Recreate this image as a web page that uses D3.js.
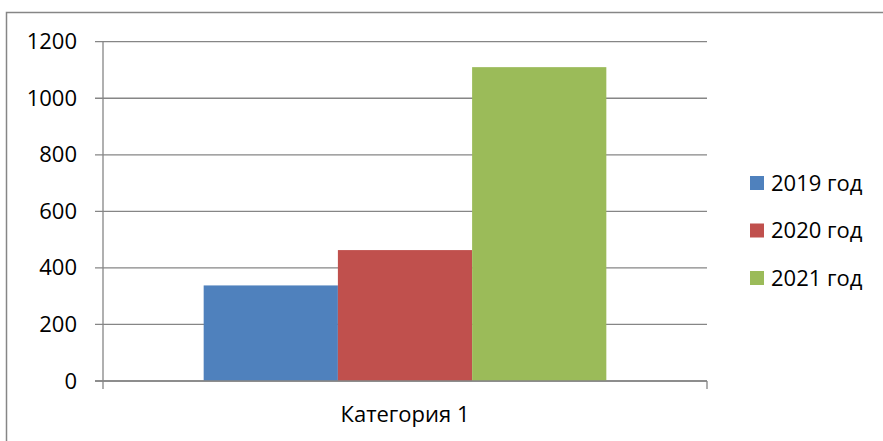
<!DOCTYPE html>
<html>
<head>
<meta charset="utf-8">
<script src="https://d3js.org/d3.v7.min.js"></script>
<style>
    body { margin: 0; background: #ffffff; }
    text { font-family: "Open Sans", "Liberation Sans", sans-serif; }
</style>
</head>
<body>
<script>
//Chart data
var categories = ["Категория 1"];
var seriesNames = ["2019 год", "2020 год", "2021 год"];
var seriesValues = [338, 463, 1110];
var seriesColors = ["#4f81bd", "#c0504d", "#9bbb59"];
var yTicks = [0, 200, 400, 600, 800, 1000, 1200];

//Define size and plot area
var width = 883,
    height = 441;
var plot = {left: 103, right: 707, top: 41.7, bottom: 381};

//Define SVG
var svg = d3.select("body")
    .append("svg")
    .attr("width", width)
    .attr("height", height);

//Outer chart border
svg.append("rect")
    .attr("x", 6.5)
    .attr("y", 12.5)
    .attr("width", 900)
    .attr("height", 500)
    .attr("fill", "none")
    .attr("stroke", "#868686")
    .attr("stroke-width", 1.5);

//Scales
var y = d3.scaleLinear()
    .domain([0, 1200])
    .range([plot.bottom, plot.top]);

var x0 = d3.scaleBand()
    .domain(categories)
    .range([plot.left, plot.right]);

//Excel gap width of 150% -> padding on each side is 0.75 bar
var x1 = d3.scaleBand()
    .domain(seriesNames)
    .range([0, x0.bandwidth()])
    .paddingOuter(0.75);

//Gridlines
svg.append("g")
    .selectAll("line")
    .data(yTicks)
    .enter().append("line")
    .attr("x1", plot.left - 8)
    .attr("x2", plot.right)
    .attr("y1", function(d) { return y(d); })
    .attr("y2", function(d) { return y(d); })
    .attr("stroke", "#868686")
    .attr("stroke-width", 1.3);

//Y axis labels
var yAxis = d3.axisLeft(y)
    .tickValues(yTicks)
    .tickFormat(d3.format("d"))
    .tickSize(0)
    .tickPadding(26);

svg.append("g")
    .attr("transform", "translate(" + plot.left + ",0)")
    .call(yAxis)
    .call(function(g) { g.select(".domain").remove(); })
    .selectAll("text")
    .attr("font-size", "22px")
    .attr("fill", "#000000");

//Bars
svg.append("g")
    .selectAll("rect")
    .data(seriesValues)
    .enter().append("rect")
    .attr("x", function(d, i) {
        return x0(categories[0]) + x1(seriesNames[i]);
    })
    .attr("y", function(d) { return y(d); })
    .attr("width", x1.bandwidth())
    .attr("height", function(d) { return y(0) - y(d); })
    .attr("fill", function(d, i) { return seriesColors[i]; });

//Axis lines
svg.append("line")
    .attr("x1", plot.left)
    .attr("x2", plot.left)
    .attr("y1", plot.top)
    .attr("y2", plot.bottom + 8)
    .attr("stroke", "#868686")
    .attr("stroke-width", 1.3);

svg.append("line")
    .attr("x1", plot.left - 8)
    .attr("x2", plot.right)
    .attr("y1", y(0))
    .attr("y2", y(0))
    .attr("stroke", "#868686")
    .attr("stroke-width", 1.3);

svg.append("line")
    .attr("x1", plot.right)
    .attr("x2", plot.right)
    .attr("y1", y(0))
    .attr("y2", plot.bottom + 8)
    .attr("stroke", "#868686")
    .attr("stroke-width", 1.3);

//Category label
svg.append("g")
    .selectAll("text")
    .data(categories)
    .enter().append("text")
    .attr("x", function(d) { return x0(d) + x0.bandwidth() / 2; })
    .attr("y", 422)
    .attr("text-anchor", "middle")
    .attr("font-size", "22px")
    .text(function(d) { return d; });

//Legend
var legend = svg.append("g")
    .selectAll("g")
    .data(seriesNames)
    .enter().append("g")
    .attr("transform", function(d, i) {
        return "translate(750," + (183 + i * 47.5) + ")";
    });

legend.append("rect")
    .attr("x", 0)
    .attr("y", -7)
    .attr("width", 14)
    .attr("height", 14)
    .attr("fill", function(d, i) { return seriesColors[i]; });

legend.append("text")
    .attr("x", 21)
    .attr("y", 0)
    .attr("dy", "0.35em")
    .attr("font-size", "22px")
    .text(function(d) { return d; });
</script>
</body>
</html>
